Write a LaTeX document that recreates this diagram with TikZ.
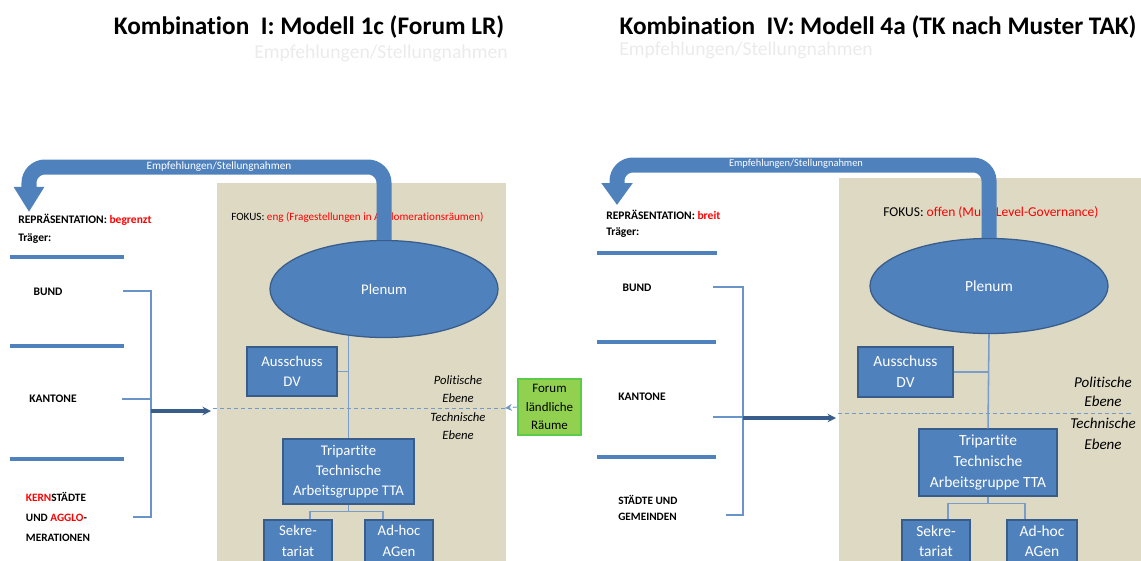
\documentclass[tikz,border=0pt]{standalone}
\usepackage{fontspec}
\setmainfont{Carlito}[Ligatures=NoCommon]
\usetikzlibrary{arrows.meta,shapes.geometric}

\definecolor{boxblue}{HTML}{4F81BD}
\definecolor{boxline}{HTML}{385D8A}
\definecolor{beige}{HTML}{DDD9C3}
\definecolor{forumgreen}{HTML}{92D050}
\definecolor{forumline}{HTML}{5CCB4A}
\definecolor{linkblue}{HTML}{7A9CCB}

\tikzset{
  orgbox/.style={draw=boxline, fill=boxblue, text=white, align=center, line width=0.9pt, inner sep=1pt},
  plenum/.style={ellipse, draw=boxline, fill=boxblue, text=white, line width=0.9pt},
  forum/.style={draw=forumline, fill=forumgreen, align=center, line width=1.3pt, inner sep=1pt,
    minimum width=1.575cm, minimum height=1.4cm, font=\fontsize{9.2}{13}\selectfont},
  title/.style={font=\fontsize{18}{20}\selectfont\bfseries},
  ghost/.style={text=black!8, font=\fontsize{14}{16}\selectfont},
  lbl/.style={font=\fontsize{8.2}{10}\selectfont\bfseries, inner sep=0pt},
  band/.style={boxblue, line width=0.375cm, rounded corners=0.4cm},
  bandtext/.style={text=white, inner sep=0pt},
  link/.style={linkblue, line width=1.1pt},
  bracket/.style={boxblue!85, line width=1.6pt},
  sepline/.style={boxblue, line width=2.2pt},
  feed/.style={boxline, line width=2.6pt, -{Stealth[length=6pt,width=6pt]}},
  divider/.style={boxblue!80, line width=0.7pt, dash pattern=on 3pt off 2pt},
}

\begin{document}
\begin{tikzpicture}[x=0.025cm, y=-0.025cm]
  \useasboundingbox (0,0) rectangle (1141,560);
  \fill[beige] (217,183) rectangle (506,600);   % Forum LR
  \fill[beige] (839,178) rectangle (1160,600);  % TK

  % titles
  \node[title] (titleL) at (309,27) {Kombination\ \ I: Modell 1c (Forum LR)};
  \node[title] (titleR) at (878,27) {Kombination\ \ IV: Modell 4a (TK nach Muster TAK)};
  \node[ghost] (subL) at (381,53) {Empfehlungen/Stellungnahmen};
  \node[ghost] (subR) at (746,50) {Empfehlungen/Stellungnahmen};

  % ---------------- Kombination I ----------------
  \node[plenum, minimum width=5.7cm, minimum height=2.425cm, font=\fontsize{10.5}{13}\selectfont] (plenL) at (384,289) {Plenum};
  \node[orgbox, minimum width=2.25cm, minimum height=1.225cm, font=\fontsize{10.5}{14.6}\selectfont] (ausL) at (292,371.5) {Ausschuss\\DV};
  \node[orgbox, minimum width=3.275cm, minimum height=1.625cm, font=\fontsize{10.5}{14.3}\selectfont] (ttaL) at (348.5,471.5) {Tripartite\\Technische\\Arbeitsgruppe TTA};
  \node[orgbox, minimum width=1.7cm, minimum height=1.05cm, font=\fontsize{10.5}{14.5}\selectfont] (sekL) at (298,541) {Sekre-\\tariat};
  \node[orgbox, minimum width=1.7cm, minimum height=1.05cm, font=\fontsize{10.5}{14.5}\selectfont] (adhL) at (399,541) {Ad-hoc\\AGen};
  \node[forum] (forum) at (549.5,407) {Forum\\ländliche\\Räume};

  \draw[link] (ttaL.north) -- (ttaL.north |- plenL.232.7);
  \draw[link] (ausL.east) -- (ausL.east -| ttaL.north);
  \draw[link] (ttaL.south) -- ++(0,7) -| ([xshift=0.3cm]sekL.north);
  \draw[link] (ttaL.south) -- ++(0,7) -| ([xshift=-0.4cm]adhL.north);

  \node[font=\fontsize{7.9}{9}\selectfont, anchor=west, inner sep=0pt] (fokusL) at (231,217) {FOKUS: \textcolor{red}{eng (Fragestellungen in Agglomerationsräumen)}};
  \node[font=\fontsize{9}{12.8}\selectfont\itshape, align=center] (polL) at (458,389) {Politische\\Ebene};
  \node[font=\fontsize{9}{12.8}\selectfont\itshape, align=center] (techL) at (458,426) {Technische\\Ebene};

  \draw[divider] (213,408) -- (505,408);
  \coordinate (edgeL) at (505,408);
  \draw[divider, -{Stealth[length=5pt,width=5pt]}] (forum.west) -- (edgeL);

  \coordinate (cornL) at (29,167);
  \coordinate (tipL) at (29,212);
  \draw[band, -{Triangle[length=0.625cm,width=0.72cm]}] (plenL.north) |- (cornL) -- (tipL);
  \node[bandtext, font=\fontsize{8}{9}\selectfont] (emplL) at (219,167) {Empfehlungen/Stellungnahmen};

  \node[lbl, anchor=west] (repL) at (18,220) {REPRÄSENTATION: \textcolor{red}{begrenzt}};
  \node[lbl, anchor=west] (trgL) at (18,239) {Träger:};
  \draw[sepline] (10,257) -- (124,257);
  \draw[sepline] (10,346) -- (124,346);
  \draw[sepline] (10,459) -- (124,459);
  \node[lbl] (bundL) at (48,292) {BUND};
  \node[lbl] (kantL) at (53,399) {KANTONE};
  \node[lbl, align=left, font=\fontsize{8}{14}\selectfont\bfseries] (kernL) at (58,517) {\textcolor{red}{KERN}STÄDTE\\UND \textcolor{red}{AGGLO}-\\MERATIONEN};

  \draw[bracket] (123,291) -- (151,291) -- (151,517) -- (133,517);
  \draw[bracket] (122,399) -- (151,399);
  \coordinate (brL) at (151,411);
  \coordinate (inL) at (211,411);
  \draw[feed] (brL) -- (inL);

  % ---------------- Kombination IV ----------------
  \node[plenum, minimum width=5.95cm, minimum height=2.375cm, font=\fontsize{11}{13}\selectfont] (plenR) at (989,286) {Plenum};
  \node[orgbox, minimum width=2.375cm, minimum height=1.25cm, font=\fontsize{11}{15}\selectfont] (ausR) at (905.5,372) {Ausschuss\\DV};
  \node[orgbox, minimum width=3.45cm, minimum height=1.675cm, font=\fontsize{11}{14.6}\selectfont] (ttaR) at (988,462.5) {Tripartite\\Technische\\Arbeitsgruppe TTA};
  \node[orgbox, minimum width=1.7cm, minimum height=1.05cm, font=\fontsize{11}{14.5}\selectfont] (sekR) at (936,541) {Sekre-\\tariat};
  \node[orgbox, minimum width=1.75cm, minimum height=1.05cm, font=\fontsize{11}{14.5}\selectfont] (adhR) at (1042,541) {Ad-hoc\\AGen};

  \draw[link] (ttaR.north) -- (plenR.south);
  \draw[link] (ausR.east) -- (ausR.east -| ttaR.north);
  \draw[link] (ttaR.south) -- ++(0,7) -| ([xshift=0.3cm]sekR.north);
  \draw[link] (ttaR.south) -- ++(0,7) -| ([xshift=-0.425cm]adhR.north);

  \node[font=\fontsize{9.6}{11}\selectfont, anchor=west, inner sep=0pt] (fokusR) at (883,212) {FOKUS: \textcolor{red}{offen (Multi-Level-Governance)}};
  \node[font=\fontsize{10.7}{13.5}\selectfont\itshape, align=center] (polR) at (1103,392) {Politische\\Ebene};
  \node[font=\fontsize{10.7}{15}\selectfont\itshape, align=center] (techR) at (1103,434) {Technische\\Ebene};

  \draw[divider] (838,413) -- (1133,413);

  \coordinate (cornR) at (617,165);
  \coordinate (tipR) at (617,205);
  \draw[band, -{Triangle[length=0.55cm,width=0.75cm]}] (plenR.north) |- (cornR) -- (tipR);
  \node[bandtext, font=\fontsize{7.4}{9}\selectfont] (emplR) at (796,164) {Empfehlungen/Stellungnahmen};

  \node[lbl, anchor=west] (repR) at (606,215) {REPRÄSENTATION: \textcolor{red}{breit}};
  \node[lbl, anchor=west] (trgR) at (606,233) {Träger:};
  \draw[sepline] (597,253) -- (717,253);
  \draw[sepline] (597,342) -- (716,342);
  \draw[sepline] (597,457) -- (716,457);
  \node[lbl] (bundR) at (637,288) {BUND};
  \node[lbl] (kantR) at (642,397) {KANTONE};
  \node[lbl, align=left, font=\fontsize{8}{11}\selectfont\bfseries, anchor=west] (stadtR) at (618,508) {STÄDTE UND\\GEMEINDEN};

  \draw[bracket] (713,287) -- (743,287) -- (743,515) -- (726,515);
  \draw[bracket] (713,417) -- (743,417);
  \coordinate (brR) at (743,418);
  \coordinate (inR) at (836,418);
  \draw[feed] (brR) -- (inR);
\end{tikzpicture}
\end{document}
